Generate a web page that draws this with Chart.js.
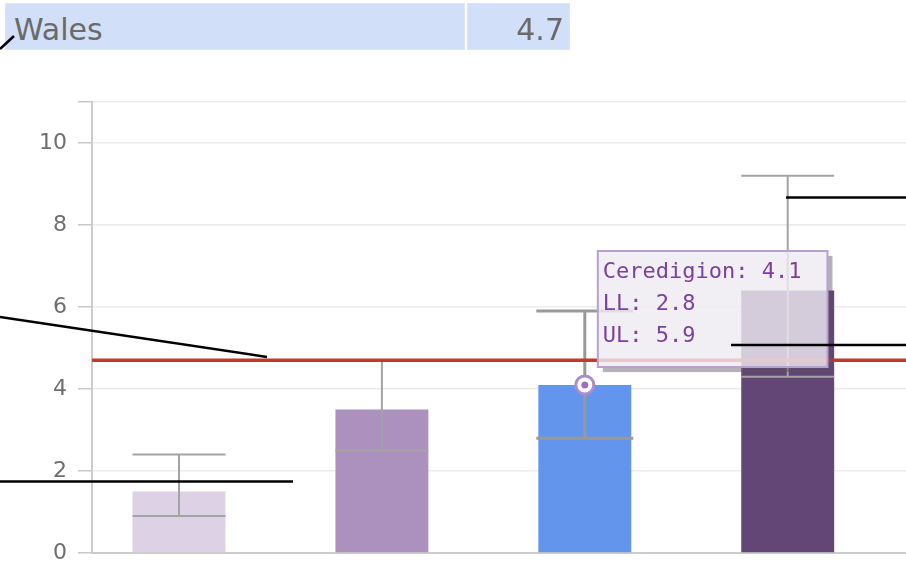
<!DOCTYPE html>
<html><head><meta charset="utf-8">
<script src="https://cdn.jsdelivr.net/npm/chart.js@4/dist/chart.umd.min.js"></script>
<style>
html,body{margin:0;padding:0;background:#fff;overflow:hidden;width:906px;height:568px;}
#wrap{position:relative;width:906px;height:568px;}
#c{position:absolute;left:0;top:0;}
.cell{position:absolute;top:3px;height:47px;background:#d1dff8;box-shadow:inset 0 0 0 1px #dbe5fa;}
.cell span{position:absolute;top:12px;font:30px/30px "DejaVu Sans";color:#6a6a6a;white-space:nowrap;}
svg{position:absolute;left:0;top:0;pointer-events:none;}
</style></head>
<body><div id="wrap">
<canvas id="c" width="906" height="568"></canvas>
<div class="cell" style="left:5px;width:460px"><span id="refName" style="left:9px"></span></div>
<div class="cell" style="left:467px;width:103px"><span id="refVal" style="right:6px"></span></div>
<svg width="906" height="568">
  <g stroke="#000" stroke-width="2.5" fill="none">
    <line x1="0" y1="49" x2="14" y2="36"/>
    <line x1="0" y1="317" x2="267" y2="357"/>
    <line x1="0" y1="481.5" x2="293" y2="481.5"/>
    <line x1="786" y1="197.5" x2="906" y2="197.5"/>
    <line x1="731" y1="345" x2="906" y2="345"/>
  </g>
</svg>
</div>
<script>
const categories = ['Area A', 'Area B', 'Ceredigion', 'Area D'];
const values = [1.5, 3.5, 4.1, 6.4];
const lowerLimits = [0.9, 2.5, 2.8, 4.3];
const upperLimits = [2.4, 4.7, 5.9, 9.2];
const barColors = ['#ddd1e5', '#ac90bd', '#6495ed', '#634675'];
const referenceName = 'Wales';
const referenceValue = 4.7;
const yTickValues = [0, 2, 4, 6, 8, 10, 11];
const highlightIndex = 2;

document.getElementById('refName').textContent = referenceName;
document.getElementById('refVal').textContent = referenceValue.toFixed(1);

const positions = categories.map((_, i) => i + 1);

Chart.Tooltip.positioners.nearBar = function (items) {
  if (!items.length) return false;
  const el = items[0].element;
  return { x: el.x + 13, y: el.y - 134, xAlign: 'left', yAlign: 'top' };
};

const overlay = {
  id: 'overlay',
  afterDatasetDraw(chart, args) {
    if (args.index !== 0) return;
    const ctx = chart.ctx, y = chart.scales.y, area = chart.chartArea;
    const meta = chart.getDatasetMeta(0);
    ctx.save();
    meta.data.forEach((bar, i) => {
      const hi = y.getPixelForValue(upperLimits[i]);
      const lo = y.getPixelForValue(lowerLimits[i]);
      const hl = i === highlightIndex;
      const half = bar.width / 2 + (hl ? 2 : 0);
      ctx.strokeStyle = hl ? '#999999' : '#a3a3a3';
      ctx.lineWidth = hl ? 3 : 2;
      ctx.beginPath();
      ctx.moveTo(bar.x, hi); ctx.lineTo(bar.x, lo);
      ctx.moveTo(bar.x - half, hi); ctx.lineTo(bar.x + half, hi);
      ctx.moveTo(bar.x - half, lo); ctx.lineTo(bar.x + half, lo);
      ctx.stroke();
    });
    const ry = y.getPixelForValue(referenceValue);
    ctx.strokeStyle = '#c0392b';
    ctx.lineWidth = 3.5;
    ctx.beginPath(); ctx.moveTo(area.left, ry); ctx.lineTo(area.right, ry); ctx.stroke();
    ctx.restore();
  },
  beforeTooltipDraw(chart, args) {
    const t = args.tooltip;
    if (!t || !t.opacity) return;
    const ctx = chart.ctx;
    ctx.save();
    ctx.fillStyle = 'rgba(90,80,100,0.45)';
    ctx.fillRect(t.x + t.width, t.y + 5, 5, t.height);
    ctx.fillRect(t.x + 5, t.y + t.height, t.width - 5, 5);
    ctx.restore();
  }
};

const chart = new Chart(document.getElementById('c'), {
  type: 'bar',
  data: {
    datasets: [
      {
        type: 'bar',
        data: values.map((v, i) => ({ x: positions[i], y: v })),
        backgroundColor: barColors,
        borderWidth: 0,
        barPercentage: 0.458,
        categoryPercentage: 1,
        order: 3
      },
      {
        type: 'line',
        data: [{ x: positions[highlightIndex], y: values[highlightIndex] }],
        showLine: false,
        pointRadius: 9,
        pointBorderWidth: 3,
        pointBorderColor: '#ad8ccb',
        pointBackgroundColor: '#ffffff',
        order: 2
      },
      {
        type: 'line',
        data: [{ x: positions[highlightIndex], y: values[highlightIndex] }],
        showLine: false,
        pointRadius: 3.5,
        pointBorderWidth: 0,
        pointBackgroundColor: '#9c72bd',
        order: 1
      }
    ]
  },
  options: {
    responsive: false,
    animation: false,
    events: [],
    layout: { autoPadding: false, padding: { top: 102, right: 0, bottom: 0, left: 0 } },
    plugins: {
      legend: { display: false },
      tooltip: {
        enabled: true,
        position: 'nearBar',
        xAlign: 'left',
        yAlign: 'top',
        caretSize: 0,
        caretPadding: 0,
        cornerRadius: 0,
        displayColors: false,
        backgroundColor: 'rgba(238,234,242,0.82)',
        borderColor: '#b8a0cf',
        borderWidth: 2,
        bodyColor: '#7b3f9f',
        bodyFont: { family: 'DejaVu Sans Mono', size: 22 },
        bodySpacing: 5.5,
        padding: { top: 8, bottom: 18, left: 5, right: 26 },
        filter: item => item.datasetIndex === 0,
        callbacks: {
          title: () => [],
          label: c => {
            const i = c.dataIndex;
            return [categories[i] + ': ' + values[i], 'LL: ' + lowerLimits[i], 'UL: ' + upperLimits[i]];
          }
        }
      }
    },
    scales: {
      x: {
        type: 'linear',
        min: 0.5712,
        max: 4.583,
        offset: false,
        afterBuildTicks: s => { s.ticks = positions.map(v => ({ value: v })); },
        ticks: { display: false },
        grid: { display: false, drawTicks: false },
        border: { display: true, color: '#cccccc', width: 2 },
        afterFit: s => { s.height = 15; s.paddingLeft = 0; s.paddingRight = 0; }
      },
      y: {
        min: 0,
        max: 11,
        afterBuildTicks: s => { s.ticks = yTickValues.map(v => ({ value: v })); },
        ticks: {
          callback: v => (v === 11 ? '' : String(v)),
          font: { family: 'DejaVu Sans', size: 22 },
          color: '#6e6e6e',
          padding: 11
        },
        grid: { color: '#ececec', lineWidth: 1.5, tickLength: 14, tickColor: '#c8c8c8', tickWidth: 1.5 },
        border: { color: '#cccccc', width: 2 },
        afterFit: s => { s.width = 92; s.paddingTop = 0; s.paddingBottom = 0; }
      }
    }
  },
  plugins: [overlay]
});

chart.tooltip.setActiveElements([{ datasetIndex: 0, index: highlightIndex }], { x: 0, y: 0 });
chart.update();
</script>
</body></html>
